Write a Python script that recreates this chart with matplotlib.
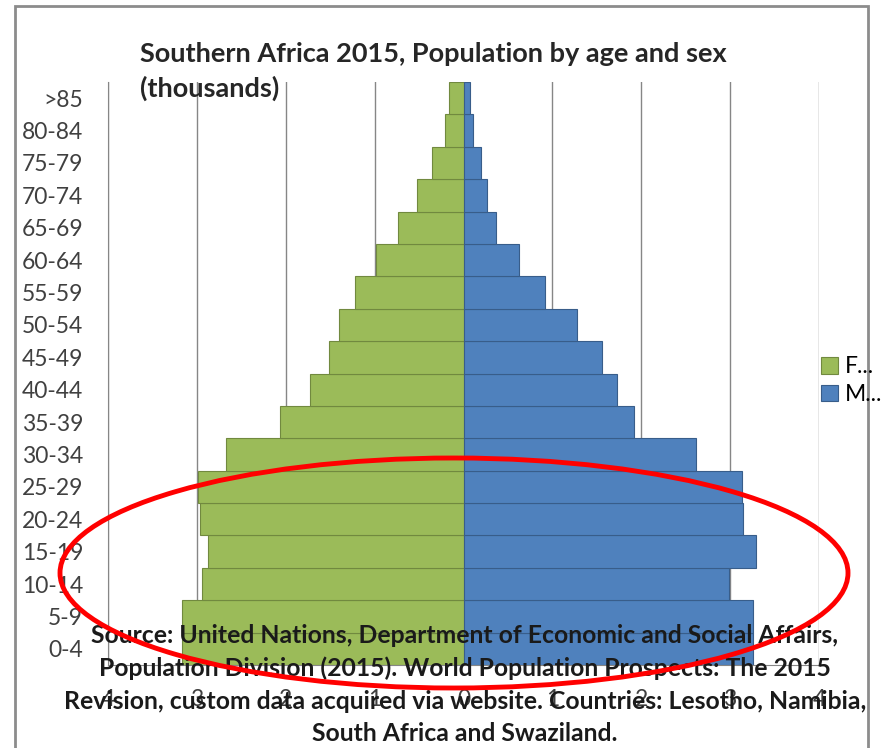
import matplotlib.pyplot as plt
import numpy as np
from matplotlib.patches import Ellipse, Rectangle
from matplotlib.ticker import FuncFormatter

# age groups, bottom to top
ages = ["0-4", "5-9", "10-14", "15-19", "20-24", "25-29", "30-34", "35-39",
        "40-44", "45-49", "50-54", "55-59", "60-64", "65-69", "70-74",
        "75-79", "80-84", ">85"]
# values (axis units as shown)
female = [3.17, 3.17, 2.94, 2.87, 2.96, 2.99, 2.67, 2.07, 1.73, 1.51,
          1.40, 1.22, 0.99, 0.74, 0.52, 0.36, 0.21, 0.16]
male = [3.26, 3.26, 2.99, 3.29, 3.15, 3.13, 2.62, 1.92, 1.73, 1.56,
        1.28, 0.92, 0.63, 0.37, 0.26, 0.20, 0.11, 0.07]
series_names = ["F...", "M..."]
x_ticks = [-4, -3, -2, -1, 0, 1, 2, 3, 4]

TITLE = "Southern Africa 2015, Population by age and sex\n(thousands)"
SOURCE = ("Source: United Nations, Department of Economic and Social Affairs,\n"
          "Population Division (2015). World Population Prospects: The 2015\n"
          "Revision, custom data acquired via website. Countries: Lesotho, Namibia,\n"
          "South Africa and Swaziland.")

plt.rcParams["font.family"] = ["Lato", "DejaVu Sans"]

W, H = 885, 748
fig = plt.figure(figsize=(W / 100, H / 100), dpi=100)
ax = fig.add_axes([108 / W, 1 - 665 / H, (819 - 108) / W, (665 - 82) / H])

y = np.arange(len(ages))
ax.barh(y, -np.array(female), height=1.0, color="#9BBB59",
        edgecolor="#71893F", linewidth=0.8, label=series_names[0], zorder=2)
ax.barh(y, male, height=1.0, color="#4F81BD",
        edgecolor="#385D8A", linewidth=0.8, label=series_names[1], zorder=2)

ax.set_xlim(-4, 4)
ax.set_ylim(-0.5, len(ages) - 0.5)
ax.set_xticks(x_ticks)
ax.xaxis.set_major_formatter(FuncFormatter(lambda v, p: f"{abs(v):g}"))
ax.set_yticks(y)
ax.set_yticklabels(ages)
ax.tick_params(axis="both", length=0, labelsize=16.5, colors="#404040")
ax.tick_params(axis="x", pad=17)
ax.tick_params(axis="y", pad=18)
ax.grid(axis="x", color="#868686", linewidth=1, zorder=0)
for s in ["top", "right"]:
    ax.spines[s].set_visible(False)
for s in ["left", "bottom"]:
    ax.spines[s].set_color("#868686")

fig.legend(loc="upper left", bbox_to_anchor=(812 / W, 1 - 347 / H),
           frameon=False, fontsize=16.5, handlelength=0.75, handleheight=0.75,
           handletextpad=0.3, labelspacing=0.3, borderaxespad=0)

fig.text(140 / W, 1 - 42 / H, TITLE, ha="left", va="top", fontsize=19.5,
         fontweight="bold", color="#262626", linespacing=1.45)

fig.text(465 / W, 1 - 624 / H, SOURCE, ha="center", va="top", fontsize=17.8,
         fontweight="bold", color="#1a1a1a", linespacing=1.5, zorder=5)

# chart frame
fig.patches.append(Rectangle((15 / W, -0.05), (868 - 15) / W, 1.05 - 6 / H,
                             transform=fig.transFigure, fill=False,
                             edgecolor="#8c8c8c", linewidth=2))

# red highlight ellipse
fig.patches.append(Ellipse((454 / W, 1 - 573 / H), 788 / W, 230 / H,
                           transform=fig.transFigure, fill=False,
                           edgecolor="#ff0000", linewidth=3.5, zorder=6))

fig.savefig("out.png", dpi=100)
